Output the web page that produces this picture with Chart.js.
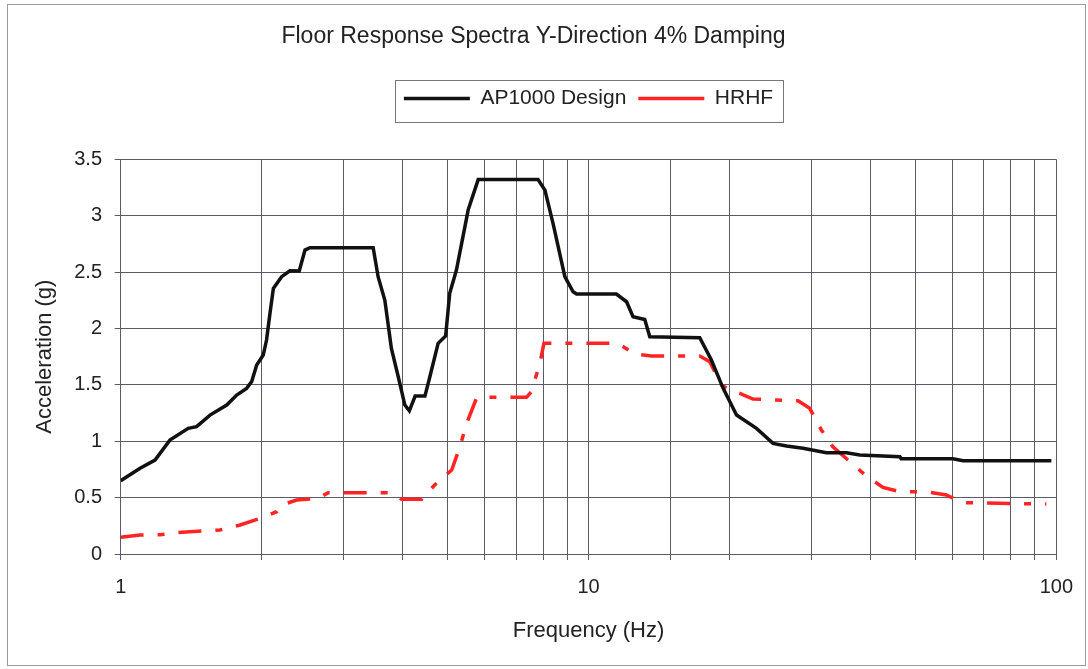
<!DOCTYPE html>
<html>
<head>
<meta charset="utf-8">
<title>Floor Response Spectra</title>
<script src="https://cdn.jsdelivr.net/npm/chart.js@4.4.1/dist/chart.umd.min.js"></script>
<style>
    body { margin: 0; background: #ffffff; }
    #chart { display: block; }
</style>
</head>
<body>
<canvas id="chart" width="1088" height="669"></canvas>
<script>
// AP1000 design spectrum (frequency in Hz, acceleration in g)
const apFreq = [1, 1.10, 1.184, 1.274, 1.394, 1.453, 1.552, 1.685, 1.77, 1.858, 1.905, 1.953, 2.017, 2.05, 2.085, 2.12,
    2.208, 2.30, 2.408, 2.477, 2.538, 3.465, 3.55, 3.67, 3.79, 3.92, 4.05, 4.14, 4.26, 4.47, 4.58, 4.77, 4.95, 5.05,
    5.22, 5.53, 5.81, 7.80, 8.07, 8.40, 8.90, 9.27, 9.43, 11.47, 12.06, 12.45, 13.19, 13.52, 17.29, 18.31, 19.4,
    20.72, 22.86, 24.8, 26.5, 28.74, 32.25, 35.6, 37.99, 46.3, 46.6, 60.1, 63.2, 97.6];
const apAccel = [0.65, 0.76, 0.833, 1.01, 1.114, 1.129, 1.232, 1.321, 1.41, 1.469, 1.528, 1.676, 1.764, 1.897, 2.134, 2.355,
    2.459, 2.512, 2.51, 2.695, 2.716, 2.716, 2.459, 2.25, 1.823, 1.572, 1.321, 1.27, 1.40, 1.40, 1.572, 1.868, 1.933, 2.311,
    2.518, 3.05, 3.32, 3.32, 3.227, 2.93, 2.459, 2.325, 2.305, 2.305, 2.237, 2.104, 2.08, 1.926, 1.918, 1.72, 1.469,
    1.232, 1.114, 0.981, 0.957, 0.937, 0.898, 0.898, 0.878, 0.863, 0.845, 0.845, 0.827, 0.827];

// HRHF spectrum
const hrFreq = [1, 1.10, 1.213, 1.317, 1.63, 1.80, 1.985, 2.154, 2.208, 2.377, 2.644, 2.777, 3.8, 3.985, 4.40, 4.69,
    5.10, 5.31, 5.49, 5.76, 6.05, 7.37, 7.55, 7.87, 8.03, 11.57, 12.56, 13.63, 17.29, 18.16, 19.24, 20.37, 21.05,
    22.47, 28.05, 29.7, 31.47, 33.3, 35.86, 39.26, 42.6, 46.3, 52.75, 58.2, 63.2, 95.2];
const hrAccel = [0.148, 0.168, 0.17, 0.19, 0.213, 0.257, 0.316, 0.375, 0.434, 0.479, 0.494, 0.544, 0.544, 0.485, 0.485, 0.612,
    0.745, 0.951, 1.159, 1.38, 1.389, 1.389, 1.439, 1.69, 1.868, 1.868, 1.773, 1.755, 1.755, 1.705, 1.498, 1.439, 1.425,
    1.374, 1.359, 1.292, 1.099, 0.951, 0.833, 0.691, 0.591, 0.552, 0.552, 0.523, 0.455, 0.443];

const seriesNames = ["AP1000 Design", "HRHF"];

const FONT = "'Liberation Sans', Arial, sans-serif";
const TEXT = "#222222";
const GRID = "#5a5a6c";

// turn two arrays into {x, y} points
function toPoints(xs, ys) {
    return xs.map((x, i) => ({ x: x, y: ys[i] }));
}

// white page with the thin grey frame round it
const pageFrame = {
    id: "pageFrame",
    beforeDraw(chart) {
        const ctx = chart.ctx;
        ctx.save();
        ctx.fillStyle = "#ffffff";
        ctx.fillRect(0, 0, chart.width, chart.height);
        ctx.strokeStyle = "#9a9a9a";
        ctx.lineWidth = 1;
        ctx.strokeRect(7.5, 4.5, 1078, 661);
        ctx.restore();
    }
};

// box round the legend items
const legendFrame = {
    id: "legendFrame",
    afterDraw(chart) {
        const boxes = chart.legend && chart.legend.legendHitBoxes;
        if (!boxes || !boxes.length) return;
        const first = boxes[0];
        const last = boxes[boxes.length - 1];
        const left = Math.round(first.left - 9) + 0.5;
        const right = Math.round(last.left + last.width + 10) + 0.5;
        const top = Math.round(first.top - 8) + 0.5;
        const bottom = Math.round(first.top + first.height + 13) + 0.5;
        const ctx = chart.ctx;
        ctx.save();
        ctx.strokeStyle = "#777777";
        ctx.lineWidth = 1;
        ctx.strokeRect(left, top, right - left, bottom - top);
        ctx.restore();
    }
};

const chart = new Chart(document.getElementById("chart"), {
    type: "line",
    plugins: [pageFrame, legendFrame],
    data: {
        datasets: [
            {
                label: seriesNames[0],
                data: toPoints(apFreq, apAccel),
                borderColor: "#111111",
                backgroundColor: "#111111",
                borderWidth: 3.5,
                pointRadius: 0,
                tension: 0,
            },
            {
                label: seriesNames[1],
                data: toPoints(hrFreq, hrAccel),
                borderColor: "#ff2424",
                backgroundColor: "#ff2424",
                borderWidth: 3.5,
                borderDash: [23, 14, 7, 14],
                pointRadius: 0,
                tension: 0,
            },
        ],
    },
    options: {
        responsive: false,
        animation: false,
        layout: { padding: { left: 10, right: 31, top: 0, bottom: 10 } },
        plugins: {
            tooltip: { enabled: false },
            title: {
                display: true,
                text: "Floor Response Spectra Y-Direction 4% Damping",
                color: TEXT,
                font: { family: FONT, size: 23, weight: "normal" },
                padding: { top: 23, bottom: 25.4 },
            },
            legend: {
                display: true,
                position: "top",
                fullSize: false,
                labels: {
                    color: TEXT,
                    font: { family: FONT, size: 21 },
                    usePointStyle: true,
                    pointStyle: "line",
                    pointStyleWidth: 66,
                    padding: 12,
                },
            },
            // empty spacer between legend and plot
            subtitle: {
                display: true,
                text: "",
                weight: 500,
                font: { size: 10 },
                padding: { top: 0, bottom: 28.3 },
            },
        },
        scales: {
            x: {
                type: "logarithmic",
                min: 1,
                max: 100,
                grid: { color: GRID, lineWidth: 1, tickLength: 6, tickColor: GRID },
                border: { color: GRID, width: 1 },
                ticks: {
                    color: TEXT,
                    font: { family: FONT, size: 20 },
                    padding: 15,
                    autoSkip: false,
                    maxRotation: 0,
                    // label only the decades
                    callback: (value) => {
                        const l = Math.log10(value);
                        return Math.abs(l - Math.round(l)) < 1e-9 ? String(value) : "";
                    },
                },
                title: {
                    display: true,
                    text: "Frequency (Hz)",
                    color: TEXT,
                    font: { family: FONT, size: 22 },
                    padding: { top: 3.8, bottom: 14.8 },
                },
            },
            y: {
                min: 0,
                max: 3.5,
                grid: { color: GRID, lineWidth: 1, tickLength: 6, tickColor: GRID },
                border: { color: GRID, width: 1 },
                ticks: {
                    stepSize: 0.5,
                    color: TEXT,
                    font: { family: FONT, size: 20 },
                    padding: 12.7,
                    callback: (value) => String(Math.round(value * 10) / 10),
                },
                title: {
                    display: true,
                    text: "Acceleration (g)",
                    color: TEXT,
                    font: { family: FONT, size: 22 },
                    padding: { top: 21.8, bottom: 3.3 },
                },
            },
        },
    },
});
</script>
</body>
</html>
